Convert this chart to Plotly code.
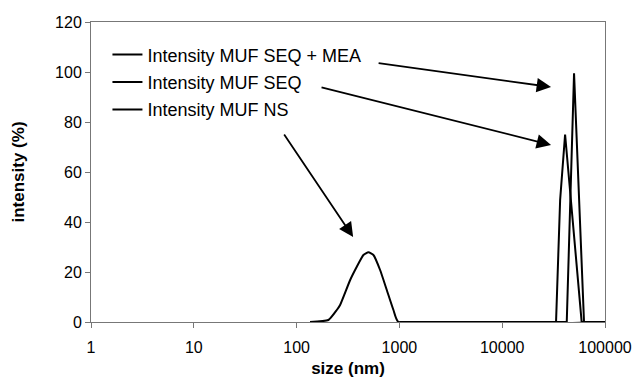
import numpy as np
import plotly.graph_objects as go

# ---- data ----
ns_size = [135, 204, 246, 265, 332, 385, 447, 500, 559, 649, 754, 875, 979, 100000]
ns_int = [0, 0.8, 4.8, 6.8, 16.8, 22.1, 26.8, 27.9, 26.8, 20.8, 12.8, 4.8, 0, 0]

seq_size = [1000, 33400, 36600, 40900, 59300, 100000]
seq_int = [0, 0, 48.8, 75, 0, 0]

mea_size = [1000, 42450, 50000, 62500, 100000]
mea_int = [0, 0, 99.5, 0, 0]

series_names = ["Intensity MUF SEQ + MEA", "Intensity MUF SEQ", "Intensity MUF NS"]

x_ticks = [1, 10, 100, 1000, 10000, 100000]
x_tick_labels = ["1", "10", "100", "1000", "10000", "100000"]
y_ticks = [0, 20, 40, 60, 80, 100, 120]

FONT = "Liberation Sans, Arial, sans-serif"

fig = go.Figure()
for name, xs, ys, shape in [(series_names[0], mea_size, mea_int, "linear"),
                            (series_names[1], seq_size, seq_int, "linear"),
                            (series_names[2], ns_size, ns_int, "spline")]:
    fig.add_trace(go.Scatter(x=xs, y=ys, mode="lines", name=name, legendgroup=name,
                             line=dict(color="black", width=2, shape=shape, smoothing=0.5)))

# arrows: (tail_size, tail_int, head_size, head_int)
arrows = [(607, 103.6, 29870, 94.0),
          (169, 94.0, 29870, 70.8),
          (74, 75.6, 355, 34.0)]
for tx, ty, hx, hy in arrows:
    fig.add_annotation(x=np.log10(hx), y=hy, ax=np.log10(tx), ay=ty,
                       xref="x", yref="y", axref="x", ayref="y",
                       text="", showarrow=True, arrowhead=2, arrowsize=1.6,
                       arrowwidth=1.8, arrowcolor="black", standoff=0)

# page body has an 8px margin, so the figure is drawn 8px smaller
fig.update_layout(
    width=632, height=376,
    margin=dict(l=83, r=35, t=14, b=62),
    paper_bgcolor="white", plot_bgcolor="white",
    font=dict(family=FONT, color="black", size=16),
    showlegend=True,
    legend=dict(x=0.032, y=0.952, xanchor="left", yanchor="top",
                bgcolor="rgba(0,0,0,0)", borderwidth=0,
                font=dict(family=FONT, size=18, color="black"),
                tracegroupgap=1),
    xaxis=dict(type="log", range=[0, 5], tickvals=x_ticks, ticktext=x_tick_labels,
               showgrid=False, zeroline=False, showline=True, linecolor="#777",
               linewidth=1, mirror=True, ticks="outside", ticklen=5, tickcolor="#777",
               ticklabelstandoff=6, automargin=False,
               tickfont=dict(size=16, family=FONT),
               title=dict(text="<b>size (nm)</b>", font=dict(size=17, family=FONT), standoff=6)),
    yaxis=dict(range=[0, 120], tickvals=y_ticks,
               showgrid=False, zeroline=False, showline=True, linecolor="#777",
               linewidth=1, mirror=True, ticks="outside", ticklen=5, tickcolor="#777",
               automargin=False,
               tickfont=dict(size=16, family=FONT),
               title=dict(text="<b>intensity (%)</b>", font=dict(size=17, family=FONT), standoff=26)),
)

fig.write_html("out.html")
